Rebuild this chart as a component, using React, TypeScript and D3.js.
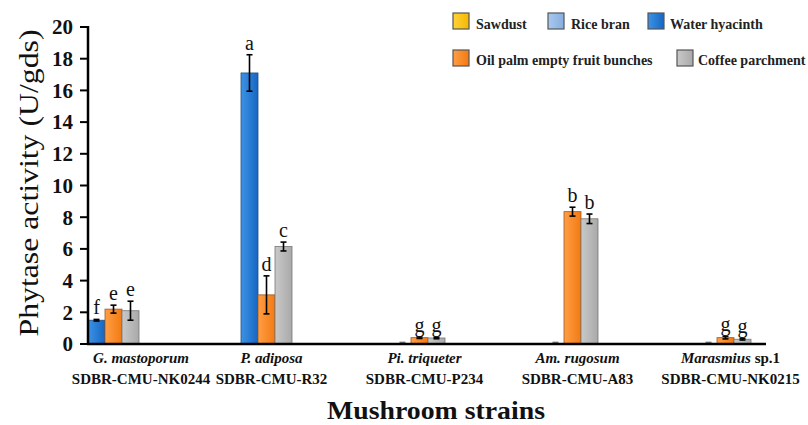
import React from "react";
import * as d3 from "d3";

const strains = ["G", "P", "Pi", "Am", "Mar"];
const speciesNames = ["G. mastoporum", "P. adiposa", "Pi. triqueter", "Am. rugosum", "Marasmius"];
const speciesSuffix = ["", "", "", "", " sp.1"];
const strainCodes = ["SDBR-CMU-NK0244", "SDBR-CMU-R32", "SDBR-CMU-P234", "SDBR-CMU-A83", "SDBR-CMU-NK0215"];

const seriesNames = ["Sawdust", "Rice bran", "Water hyacinth", "Oil palm empty fruit bunches", "Coffee parchment"];

const sawdust = [0, 0, 0, 0, 0];
const riceBran = [0, 0, 0, 0, 0];
const waterHyacinth = [1.5, 17.1, 0, 0, 0];
const oilPalm = [2.2, 3.1, 0.4, 8.35, 0.4];
const coffee = [2.1, 6.15, 0.38, 7.9, 0.3];

const sawdustErr = [0, 0, 0, 0, 0];
const riceBranErr = [0, 0, 0, 0, 0];
const waterHyacinthErr = [0.05, 1.15, 0.1, 0.1, 0.1];
const oilPalmErr = [0.25, 1.2, 0.05, 0.28, 0.08];
const coffeeErr = [0.6, 0.28, 0.05, 0.3, 0.05];

const sawdustSig = ["", "", "", "", ""];
const riceBranSig = ["", "", "", "", ""];
const waterHyacinthSig = ["f", "a", "", "", ""];
const oilPalmSig = ["e", "d", "g", "b", "g"];
const coffeeSig = ["e", "c", "g", "b", "g"];

const yTicks = [0, 2, 4, 6, 8, 10, 12, 14, 16, 18, 20];

const seriesValues = [sawdust, riceBran, waterHyacinth, oilPalm, coffee];
const seriesErrs = [sawdustErr, riceBranErr, waterHyacinthErr, oilPalmErr, coffeeErr];
const seriesSig = [sawdustSig, riceBranSig, waterHyacinthSig, oilPalmSig, coffeeSig];

const colors = [
  { a: "#FFD23A", b: "#F5B800", s: "#8a7a30" },
  { a: "#A9C8EE", b: "#86AEE0", s: "#5a6f8a" },
  { a: "#3C93E6", b: "#1766C2", s: "#1f4f86" },
  { a: "#FF9E45", b: "#F27A12", s: "#9a5a25" },
  { a: "#C9C9C9", b: "#A9A9A9", s: "#777777" },
];

const FONT = "'Liberation Serif', 'Times New Roman', serif";

export default function App() {
  const W = 808;
  const H = 425;
  const axisX = 88;
  const axisY = 344;

  const y = d3.scaleLinear().domain([0, 20]).range([axisY, 27]);
  const x = d3
    .scaleBand<string>()
    .domain(strains)
    .range([54, 751])
    .paddingInner(68 / 153)
    .paddingOuter(0);
  const xs = d3
    .scaleBand<string>()
    .domain(seriesNames)
    .range([0, x.bandwidth()])
    .padding(0);

  const legendLayout = [
    { sx: 453, sy: 13, tx: 476, ty: 29 },
    { sx: 548, sy: 13, tx: 571, ty: 29 },
    { sx: 648, sy: 13, tx: 670, ty: 29 },
    { sx: 453, sy: 50, tx: 476, ty: 65 },
    { sx: 677, sy: 50, tx: 698, ty: 65 },
  ];

  return (
    <svg
      width={W}
      height={H}
      style={{ position: "absolute", left: 0, top: 0, background: "#fff" }}
      fontFamily={FONT}
    >
      <defs>
        {colors.map((c, i) => (
          <linearGradient key={i} id={`g${i}`} x1="0" x2="1" y1="0" y2="0">
            <stop offset="0" stopColor={c.a} />
            <stop offset="1" stopColor={c.b} />
          </linearGradient>
        ))}
      </defs>
      <rect width={W} height={H} fill="#fff" />

      {/* bars */}
      {seriesNames.map((sn, si) =>
        strains.map((st, ci) => {
          const v = seriesValues[si][ci];
          if (!v) return null;
          const bx = (x(st) as number) + (xs(sn) as number);
          const bw = xs.bandwidth();
          const top = y(v);
          return (
            <rect
              key={`${si}-${ci}`}
              x={bx}
              y={top}
              width={bw}
              height={axisY - top}
              fill={`url(#g${si})`}
              stroke={colors[si].s}
              strokeWidth={0.8}
            />
          );
        })
      )}

      {/* error bars and letters */}
      {seriesNames.map((sn, si) =>
        strains.map((st, ci) => {
          const v = seriesValues[si][ci];
          const e = seriesErrs[si][ci];
          const sig = seriesSig[si][ci];
          if (!v && !e) return null;
          const cx = (x(st) as number) + (xs(sn) as number) + xs.bandwidth() / 2;
          const yt = y(v + e);
          const yb = y(Math.max(0, v - e));
          const stroke = v ? "#000" : "#777";
          return (
            <g key={`e${si}-${ci}`}>
              {e > 0 && (
                <g stroke={stroke} strokeWidth={1.6}>
                  <line x1={cx} x2={cx} y1={yt} y2={yb} />
                  <line x1={cx - 3} x2={cx + 3} y1={yt} y2={yt} />
                  <line x1={cx - 3} x2={cx + 3} y1={yb} y2={yb} />
                </g>
              )}
              {sig && (
                <text x={cx} y={yt - 5} textAnchor="middle" fontSize={20} fill="#111">
                  {sig}
                </text>
              )}
            </g>
          );
        })
      )}

      {/* axes */}
      <line x1={axisX} x2={axisX} y1={y(20) - 1} y2={axisY + 1} stroke="#000" strokeWidth={2.5} />
      <line x1={axisX - 1} x2={766} y1={axisY} y2={axisY} stroke="#000" strokeWidth={2.5} />
      {yTicks.map((t) => (
        <g key={t}>
          <line x1={axisX - 8} x2={axisX} y1={y(t)} y2={y(t)} stroke="#000" strokeWidth={2} />
          <text
            x={73}
            y={y(t)}
            dy="0.35em"
            textAnchor="end"
            fontSize={21}
            fontWeight="bold"
            fill="#111"
          >
            {t}
          </text>
        </g>
      ))}

      {/* category labels */}
      {strains.map((st, ci) => {
        const c = Math.max((x(st) as number) + xs.bandwidth() * 3.5 + 5, axisX + 53);
        return (
          <g key={`l${st}`} fontWeight="bold" fontSize={15} fill="#111">
            <text x={c} y={363} textAnchor="middle">
              <tspan fontStyle="italic">{speciesNames[ci]}</tspan>
              {speciesSuffix[ci] && <tspan>{speciesSuffix[ci]}</tspan>}
            </text>
            <text x={c} y={384} textAnchor="middle">
              {strainCodes[ci]}
            </text>
          </g>
        );
      })}

      {/* axis titles */}
      <text
        transform={`translate(38,${183}) rotate(-90)`}
        textAnchor="middle"
        fontSize={27}
        textLength={307}
        lengthAdjust="spacingAndGlyphs"
        fill="#111"
      >
        Phytase activity (U/gds)
      </text>
      <text
        x={436}
        y={419}
        textAnchor="middle"
        fontSize={25}
        fontWeight="bold"
        textLength={218}
        lengthAdjust="spacingAndGlyphs"
        fill="#111"
      >
        Mushroom strains
      </text>

      {/* legend */}
      {seriesNames.map((sn, si) => {
        const L = legendLayout[si];
        return (
          <g key={`lg${si}`}>
            <rect
              x={L.sx}
              y={L.sy}
              width={16}
              height={16}
              fill={`url(#g${si})`}
              stroke="#555"
              strokeWidth={1.2}
            />
            <text x={L.tx} y={L.ty} fontSize={14} fontWeight="bold" fill="#222">
              {sn}
            </text>
          </g>
        );
      })}
    </svg>
  );
}
